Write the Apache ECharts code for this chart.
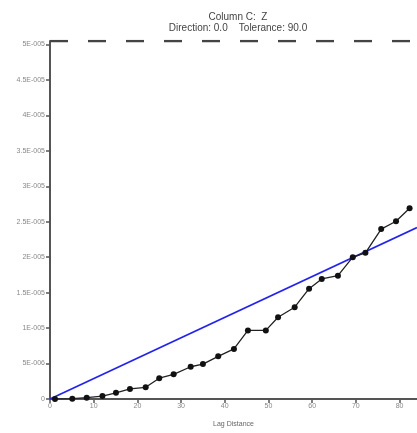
<!DOCTYPE html>
<html><head><meta charset="utf-8">
<script src="https://cdn.jsdelivr.net/npm/echarts@6/dist/echarts.min.js"></script>
<style>html,body{margin:0;padding:0;background:#fff}#c{width:417px;height:433px}</style>
</head><body><div id="c"></div>
<script>
var lags = [1.14, 5.1, 8.4, 12.0, 15.1, 18.3, 21.9, 25.0, 28.3, 32.2, 35.0, 38.5, 42.1, 45.3, 49.4, 52.2, 56.0, 59.3, 62.2, 65.9, 69.3, 72.2, 75.8, 79.2, 82.3];
var gammas = [0.0, 0.04e-6, 0.18e-6, 0.41e-6, 0.87e-6, 1.42e-6, 1.65e-6, 2.93e-6, 3.48e-6, 4.55e-6, 4.92e-6, 6.02e-6, 7.07e-6, 9.68e-6, 9.68e-6, 11.53e-6, 12.95e-6, 15.56e-6, 16.94e-6, 17.40e-6, 20.01e-6, 20.62e-6, 23.97e-6, 25.07e-6, 26.90e-6];
var modelSlope = 2.879e-7;
var sill = 5.05e-5;
var xMax = 84;
var yMax = 5.05e-5;
var titleLines = ['Column C:  Z', 'Direction: 0.0    Tolerance: 90.0'];
var xName = 'Lag Distance';

function fmtY(v) {
  if (Math.abs(v) < 1e-12) return '0';
  var s = v.toExponential();
  var parts = s.split('e');
  var m = parseFloat(parseFloat(parts[0]).toFixed(2)).toString();
  var e = parseInt(parts[1], 10);
  var ea = Math.abs(e).toString();
  while (ea.length < 3) ea = '0' + ea;
  return m + 'E' + (e < 0 ? '-' : '') + ea;
}

var pts = lags.map(function (x, i) { return [x, gammas[i]]; });
var model = [[0, 0], [xMax, modelSlope * xMax]];
var sillLine = [[0, sill], [xMax, sill]];

var chart = echarts.init(document.getElementById('c'));
chart.setOption({
  animation: false,
  textStyle: { fontFamily: 'Liberation Sans' },
  title: {
    text: titleLines.join('\n'),
    left: 233, top: 7, textAlign: 'center',
    textStyle: { fontSize: 10, fontWeight: 'normal', color: '#444', lineHeight: 11, fontFamily: 'Liberation Sans' }
  },
  grid: { left: 50, right: 0, top: 41, bottom: 25, containLabel: false },
  xAxis: {
    type: 'value', min: 0, max: xMax, interval: 10,
    name: xName, nameLocation: 'middle', nameGap: 22,
    nameTextStyle: { fontSize: 7, color: '#666' },
    axisLine: { show: true, onZero: false, lineStyle: { color: '#555', width: 2 } },
    axisTick: { show: true, length: 4, lineStyle: { color: '#555', width: 1.5 } },
    axisLabel: { fontSize: 7, color: '#888', margin: 4, showMaxLabel: false },
    splitLine: { show: false }
  },
  yAxis: {
    type: 'value', min: 0, max: yMax, interval: 5e-6,
    axisLine: { show: true, onZero: false, lineStyle: { color: '#555', width: 2 } },
    axisTick: { show: true, length: 4, lineStyle: { color: '#555', width: 1.5 } },
    axisLabel: {
      fontSize: 7, color: '#888', margin: 5, showMaxLabel: false,
      formatter: function (v) { return fmtY(v); }
    },
    splitLine: { show: false }
  },
  series: [
    {
      type: 'line', data: sillLine, symbol: 'none', silent: true,
      lineStyle: { color: '#444', type: [18, 20], width: 2.5 },
      z: 1
    },
    {
      type: 'line', data: model, symbol: 'none', silent: true,
      lineStyle: { color: '#2020ff', width: 1.6 },
      z: 2
    },
    {
      type: 'line', data: pts, symbol: 'circle', symbolSize: 6,
      itemStyle: { color: '#111' },
      lineStyle: { color: '#222', width: 1.3 },
      z: 3
    }
  ]
});
</script></body></html>
